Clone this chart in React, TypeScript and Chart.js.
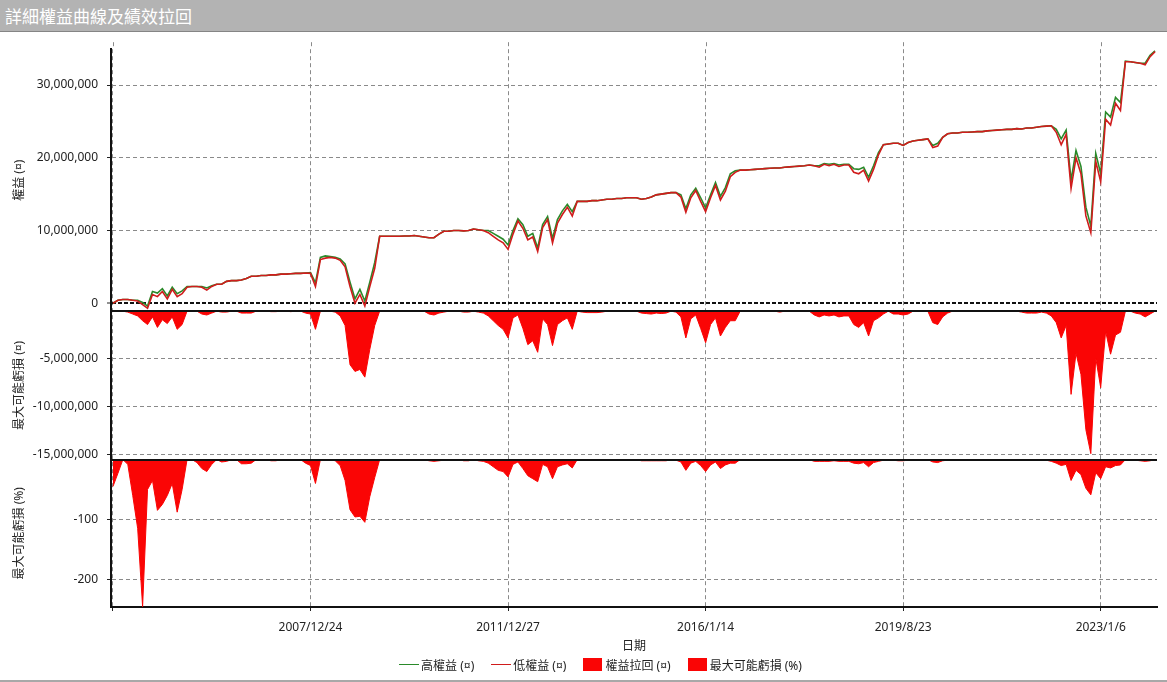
import React, { useEffect, useRef } from 'react';
import { Chart, registerables } from 'chart.js';

Chart.register(...registerables);

const FONT = "'Noto Sans', 'Noto Sans CJK TC', sans-serif";
const TEXT = '#222222';
const GREEN = '#2a8a2a';
const RED_LINE = '#d01c1c';
const RED_FILL = '#fa0505';
const GRID = '#8a8a8a';

// x axis: trade index; tick positions and their date labels
const xTickIndex = [0, 40, 80, 120, 160, 200];
const xTickLabels = ['', '2007/12/24', '2011/12/27', '2016/1/14', '2019/8/23', '2023/1/6'];

// y axis tick values
const eqTicks = [0, 10000000, 20000000, 30000000];
const ddTicks = [-15000000, -10000000, -5000000];
const pctTicks = [-200, -100];

// 低權益 (millions)
const lowEquity = [
  0.0, 0.4, 0.5, 0.5, 0.4, 0.3, -0.2, -0.7, 1.2, 0.9,
  1.6, 0.6, 1.9, 0.9, 1.3, 2.2, 2.3, 2.3, 2.2, 1.8,
  2.3, 2.6, 2.6, 3.0, 3.1, 3.1, 3.2, 3.4, 3.7, 3.7,
  3.8, 3.8, 3.9, 3.9, 4.0, 4.0, 4.05, 4.1, 4.1, 4.15,
  4.1, 2.3, 6.0, 6.2, 6.3, 6.2, 5.9, 5.0, 2.3, 0.0,
  1.2, -0.4, 2.3, 4.8, 9.2, 9.2, 9.2, 9.2, 9.2, 9.25,
  9.25, 9.3, 9.2, 9.1, 9.0, 9.0, 9.5, 9.9, 9.9, 10.0,
  10.0, 9.95, 10.0, 10.2, 10.1, 10.0, 9.7, 9.2, 8.7, 8.3,
  7.4, 9.5, 11.3, 10.3, 8.7, 9.1, 7.1, 10.4, 11.5, 8.3,
  11.0, 12.2, 13.2, 12.0, 14.0, 14.0, 14.0, 14.1, 14.1, 14.2,
  14.3, 14.3, 14.4, 14.4, 14.5, 14.5, 14.5, 14.3, 14.4, 14.6,
  14.9, 15.0, 15.1, 15.2, 15.2, 14.6, 12.5, 14.5, 15.5, 14.0,
  12.6, 14.5, 16.2, 14.2, 15.4, 17.4, 18.0, 18.3, 18.3, 18.35,
  18.4, 18.45, 18.5, 18.55, 18.6, 18.6, 18.7, 18.75, 18.8, 18.85,
  18.9, 19.0, 18.9, 18.7, 19.1, 18.9, 19.1, 18.8, 19.0, 19.0,
  18.0, 17.8, 18.3, 16.8, 18.4, 20.4, 21.8, 21.9, 22.0, 22.0,
  21.7, 22.1, 22.3, 22.4, 22.5, 22.6, 21.4, 21.6, 22.8, 23.3,
  23.4, 23.4, 23.5, 23.5, 23.55, 23.6, 23.6, 23.7, 23.75, 23.8,
  23.85, 23.9, 23.9, 24.0, 23.95, 24.1, 24.1, 24.2, 24.3, 24.35,
  24.4, 23.5, 21.8, 23.2, 15.8, 20.0, 17.8, 12.0, 9.7, 19.5,
  16.7, 25.3, 24.5, 27.5, 26.5, 33.2, 33.2, 33.1, 33.0, 32.8,
  33.9, 34.6,
];

// 高權益 (millions)
const highEquity = [
  0.0, 0.4, 0.5, 0.5, 0.4, 0.4, 0.1, -0.4, 1.6, 1.4,
  2.0, 1.0, 2.2, 1.3, 1.7, 2.3, 2.3, 2.3, 2.3, 2.1,
  2.4, 2.6, 2.6, 3.0, 3.1, 3.1, 3.2, 3.4, 3.7, 3.7,
  3.8, 3.8, 3.9, 3.9, 4.0, 4.0, 4.05, 4.1, 4.1, 4.15,
  4.2, 2.8, 6.3, 6.5, 6.4, 6.3, 6.1, 5.4, 2.9, 0.6,
  1.9, 0.3, 2.9, 5.6, 9.2, 9.2, 9.2, 9.2, 9.2, 9.25,
  9.25, 9.3, 9.2, 9.1, 9.0, 9.0, 9.5, 9.9, 9.9, 10.0,
  10.0, 9.95, 10.0, 10.2, 10.1, 10.0, 10.0, 9.6, 9.2, 8.8,
  8.0, 10.0, 11.6, 10.8, 9.2, 9.6, 7.6, 10.8, 11.9, 8.9,
  11.5, 12.7, 13.6, 12.6, 14.0, 14.0, 14.0, 14.1, 14.1, 14.2,
  14.3, 14.3, 14.4, 14.4, 14.5, 14.5, 14.5, 14.3, 14.4, 14.6,
  14.9, 15.0, 15.1, 15.2, 15.2, 14.9, 13.0, 14.9, 15.8, 14.5,
  13.1, 14.9, 16.6, 14.7, 15.9, 17.8, 18.2, 18.3, 18.3, 18.35,
  18.4, 18.45, 18.5, 18.55, 18.6, 18.6, 18.7, 18.75, 18.8, 18.85,
  18.9, 19.0, 18.9, 18.9, 19.2, 19.1, 19.2, 19.0, 19.1, 19.1,
  18.5, 18.4, 18.7, 17.3, 18.9, 20.7, 21.8, 21.9, 22.0, 22.0,
  21.7, 22.1, 22.3, 22.4, 22.5, 22.6, 21.7, 22.0, 22.8, 23.3,
  23.4, 23.4, 23.5, 23.5, 23.55, 23.6, 23.6, 23.7, 23.75, 23.8,
  23.85, 23.9, 23.9, 24.0, 23.95, 24.1, 24.1, 24.2, 24.3, 24.35,
  24.4, 23.9, 22.6, 23.8, 16.9, 21.0, 18.8, 13.2, 10.6, 20.6,
  17.8, 26.3, 25.6, 28.3, 27.6, 33.3, 33.2, 33.1, 33.0, 33.0,
  34.1, 34.7,
];

// 權益拉回 (millions)
const drawdown = [
  0, 0, 0, -0.1, -0.3, -0.5, -1.0, -1.4, -0.6, -1.7,
  -0.9, -1.3, -0.6, -1.9, -1.4, 0, 0, 0, -0.3, -0.4,
  -0.2, 0, -0.1, -0.1, 0, 0, -0.2, -0.2, -0.2, 0,
  0, 0, -0.05, -0.05, 0, 0, -0.05, 0, 0, -0.2,
  -0.3, -1.9, 0, 0, 0, -0.1, -0.5, -1.5, -5.6, -6.3,
  -6.1, -6.9, -4.0, -1.5, 0, 0, 0, 0, 0, 0,
  0, 0, 0, 0, -0.3, -0.4, -0.2, -0.1, 0, 0,
  0, -0.1, -0.1, 0, -0.1, -0.2, -0.5, -1.0, -1.5, -1.9,
  -2.8, -0.7, -0.4, -1.8, -3.5, -3.1, -4.3, -0.8, -1.4, -3.6,
  -1.4, -1.0, -0.7, -1.9, 0, -0.1, -0.15, -0.15, -0.15, -0.1,
  0, 0, 0, 0, 0, 0, 0, -0.2, -0.25, -0.3,
  -0.2, -0.25, -0.2, 0, -0.1, -0.6, -2.8, -0.8, -0.4, -1.8,
  -3.3, -1.4, -0.7, -2.6, -1.7, -1.0, -1.0, 0, 0, 0,
  0, 0, 0, 0, 0, -0.1, 0, 0, 0, 0,
  0, 0, -0.4, -0.6, -0.4, -0.5, -0.4, -0.6, -0.5, -0.5,
  -1.4, -1.7, -1.2, -2.6, -1.0, -0.7, -0.3, 0, -0.3, -0.3,
  -0.4, -0.3, 0, 0, 0, 0, -1.2, -1.4, -0.6, -0.2,
  0, 0, 0, 0, 0, 0, 0, 0, 0, 0,
  0, 0, 0, 0, -0.1, -0.2, -0.2, -0.2, -0.1, -0.2,
  -0.5, -1.2, -2.8, -1.5, -8.7, -4.4, -6.6, -12.4, -14.9, -4.9,
  -8.0, -2.1, -4.5, -2.5, -2.2, 0, 0, -0.2, -0.3, -0.6,
  -0.3, 0,
];

// 最大可能虧損 (%)
const maxLossPct = [
  -45, -23, 0, -8, -60, -115, -246, -50, -35, -85,
  -75, -60, -40, -88, -50, 0, 0, -5, -15, -20,
  -8, 0, -4, -3, 0, 0, -7, -7, -6, 0,
  0, 0, -2, -2, 0, 0, -1, 0, 0, -6,
  -10, -40, 0, 0, 0, -2, -10, -35, -84, -96,
  -95, -105, -62, -30, 0, 0, 0, 0, 0, 0,
  0, 0, 0, 0, -2, -3, -2, -1, 0, 0,
  0, -2, -2, 0, -2, -3, -6, -12, -18, -20,
  -29, -8, -4, -15, -27, -32, -37, -8, -12, -32,
  -12, -9, -7, -14, 0, -1, -1, -1, -1, -1,
  0, 0, 0, 0, 0, 0, 0, -2, -2, -2,
  -2, -2, -2, 0, -1, -4, -18, -6, -3, -10,
  -20, -9, -4, -15, -9, -6, -6, 0, 0, 0,
  0, 0, 0, 0, 0, -1, 0, 0, 0, 0,
  0, 0, -3, -3, -3, -3, -2, -3, -3, -3,
  -6, -7, -5, -12, -5, -3, -1, 0, -1, -2,
  -2, -1, 0, 0, 0, 0, -4, -5, -2, -1,
  0, 0, 0, 0, 0, 0, 0, 0, 0, 0,
  0, 0, 0, 0, -1, -1, -1, -1, -1, -1,
  -3, -6, -10, -8, -35, -18, -25, -48, -59, -22,
  -32, -12, -14, -10, -9, 0, 0, -1, -2, -3,
  -2, 0,
];

const legendItems = [
  { label: '高權益 (¤)', color: GREEN, kind: 'line' },
  { label: '低權益 (¤)', color: RED_LINE, kind: 'line' },
  { label: '權益拉回 (¤)', color: RED_FILL, kind: 'box' },
  { label: '最大可能虧損 (%)', color: RED_FILL, kind: 'box' },
];

const tickFont = { family: FONT, size: 12 };

export default function App() {
  const ref = useRef<HTMLCanvasElement>(null);

  useEffect(() => {
    document.body.style.margin = '0';
    const canvas = ref.current;
    if (!canvas) return;

    const pts = (arr: number[], mul: number) => arr.map((v, i) => ({ x: i, y: v * mul }));
    const fmt = (v: any) => Number(v).toLocaleString('en-US');

    const decorations = {
      id: 'panelDecorations',
      beforeDatasetsDraw(chart: any) {
        // vertical grid lines poke a little above the plot, as in the original
        const { ctx, chartArea, scales } = chart;
        ctx.save();
        ctx.strokeStyle = GRID;
        ctx.lineWidth = 1;
        ctx.setLineDash([4, 3]);
        xTickIndex.forEach((v) => {
          const x = Math.round(scales.x.getPixelForValue(v)) + 0.5;
          ctx.beginPath();
          ctx.moveTo(x, chartArea.top - 7);
          ctx.lineTo(x, chartArea.top);
          ctx.stroke();
        });
        ctx.restore();
      },
      afterDatasetsDraw(chart: any) {
        const { ctx, chartArea, scales } = chart;
        ctx.save();
        ctx.strokeStyle = '#111';
        ctx.lineWidth = 2;
        ['yDd', 'yPct'].forEach((id) => {
          const y = Math.round(scales[id].getPixelForValue(0));
          ctx.beginPath();
          ctx.moveTo(chartArea.left, y);
          ctx.lineTo(chartArea.right, y);
          ctx.stroke();
        });
        ctx.restore();
      },
    };

    const yBase = (ticks: number[], title: string, weight: number, stackWeight: number, min: number, max: number, isEq: boolean) => ({
      type: 'linear' as const,
      position: 'left' as const,
      stack: 'panels',
      stackWeight,
      weight,
      min,
      max,
      afterBuildTicks: (s: any) => {
        s.ticks = ticks.map((value) => ({ value }));
      },
      afterFit: (s: any) => {
        s.width = 111;
      },
      ticks: {
        font: tickFont,
        color: TEXT,
        padding: 9,
        autoSkip: false,
        callback: (v: any) => fmt(v),
      },
      grid: {
        color: (c: any) => (isEq && c.tick && c.tick.value === 0 ? '#111' : GRID),
        lineWidth: (c: any) => (isEq && c.tick && c.tick.value === 0 ? 2 : 1),
        tickLength: 4,
        tickColor: '#222',
        tickWidth: 1,
      },
      border: {
        display: true,
        color: '#111',
        width: 2,
        dash: (c: any) => (isEq && c.tick && c.tick.value === 0 ? [4, 2] : [4, 3]),
      },
      title: {
        display: true,
        text: title,
        color: TEXT,
        font: { family: FONT, size: 12 },
        padding: { top: 12, bottom: 0 },
      },
    });

    const chart = new Chart(canvas, {
      type: 'line',
      data: {
        datasets: [
          {
            label: '高權益 (¤)',
            data: pts(highEquity, 1e6),
            borderColor: GREEN,
            backgroundColor: GREEN,
            borderWidth: 1.6,
            yAxisID: 'yEq',
            order: 1,
            pointRadius: 0,
            fill: false,
          },
          {
            label: '低權益 (¤)',
            data: pts(lowEquity, 1e6),
            borderColor: RED_LINE,
            backgroundColor: RED_LINE,
            borderWidth: 1.6,
            yAxisID: 'yEq',
            order: 0,
            pointRadius: 0,
            fill: false,
          },
          {
            label: '權益拉回 (¤)',
            data: pts(drawdown, 1e6),
            borderColor: RED_FILL,
            backgroundColor: RED_FILL,
            borderWidth: 1,
            yAxisID: 'yDd',
            order: 2,
            pointRadius: 0,
            fill: 'origin',
          },
          {
            label: '最大可能虧損 (%)',
            data: pts(maxLossPct, 1),
            borderColor: RED_FILL,
            backgroundColor: RED_FILL,
            borderWidth: 1,
            yAxisID: 'yPct',
            order: 3,
            pointRadius: 0,
            fill: 'origin',
          },
        ],
      },
      options: {
        animation: false,
        responsive: false,
        maintainAspectRatio: false,
        devicePixelRatio: 1,
        layout: { padding: { top: 14, right: 10, bottom: 27, left: 0 } },
        elements: { line: { tension: 0 }, point: { radius: 0 } },
        plugins: {
          legend: { display: false },
          tooltip: { enabled: false },
        },
        scales: {
          x: {
            type: 'linear',
            position: 'bottom',
            min: -0.4,
            max: 211.4,
            afterBuildTicks: (s: any) => {
              s.ticks = xTickIndex.map((value) => ({ value }));
            },
            afterFit: (s: any) => {
              s.height = 47;
            },
            ticks: {
              autoSkip: false,
              maxRotation: 0,
              padding: 9,
              font: tickFont,
              color: TEXT,
              callback: (v: any) => {
                const k = xTickIndex.indexOf(Number(v));
                return k >= 0 ? xTickLabels[k] : '';
              },
            },
            grid: { color: GRID, lineWidth: 1, tickLength: 4, tickColor: '#222', tickWidth: 1 },
            border: { display: true, color: '#111', width: 2, dash: [4, 3] },
            title: {
              display: true,
              text: '日期',
              color: TEXT,
              font: { family: FONT, size: 12 },
              padding: { top: 0, bottom: 0 },
            },
          },
          yPct: yBase(pctTicks, '最大可能虧損 (%)', 1, 148, -246.7, 0, false),
          yDd: yBase(ddTicks, '最大可能虧損 (¤)', 2, 149, -15520000, 0, false),
          yEq: yBase(eqTicks, '權益 (¤)', 3, 263, -1096000, 34930000, true),
        } as any,
      },
      plugins: [decorations],
    });

    return () => chart.destroy();
  }, []);

  return (
    <div style={{ position: 'relative', width: 1167, height: 682, background: '#fff', overflow: 'hidden', fontFamily: FONT }}>
      <div
        style={{
          position: 'absolute',
          left: 0,
          top: 0,
          width: 1167,
          height: 32,
          background: '#b3b3b3',
          borderBottom: '1px solid #858585',
          boxSizing: 'border-box',
          color: '#ffffff',
          fontSize: 17,
          lineHeight: '31px',
          paddingLeft: 5,
          fontFamily: "'Noto Sans CJK TC', 'Noto Sans', sans-serif",
        }}
      >
        詳細權益曲線及績效拉回
      </div>
      <canvas
        ref={ref}
        width={1167}
        height={648}
        style={{ position: 'absolute', left: 0, top: 33, width: 1167, height: 648 }}
      />
      <div
        style={{
          position: 'absolute',
          left: 0,
          top: 657,
          width: 1201,
          height: 15,
          display: 'flex',
          justifyContent: 'center',
          alignItems: 'center',
          gap: 17,
          fontSize: 12,
          color: TEXT,
          fontFamily: "'Noto Sans', 'Noto Sans CJK TC', sans-serif",
        }}
      >
        {legendItems.map((it) => (
          <div key={it.label} style={{ display: 'flex', alignItems: 'center' }}>
            {it.kind === 'line' ? (
              <div style={{ width: 20, height: 1, background: it.color, marginRight: 2 }} />
            ) : (
              <div style={{ width: 19, height: 13, background: it.color, marginRight: 3 }} />
            )}
            <span style={{ whiteSpace: 'nowrap' }}>{it.label}</span>
          </div>
        ))}
      </div>
      <div style={{ position: 'absolute', left: 0, top: 680, width: 1167, height: 2, background: '#a8a8a8' }} />
    </div>
  );
}
